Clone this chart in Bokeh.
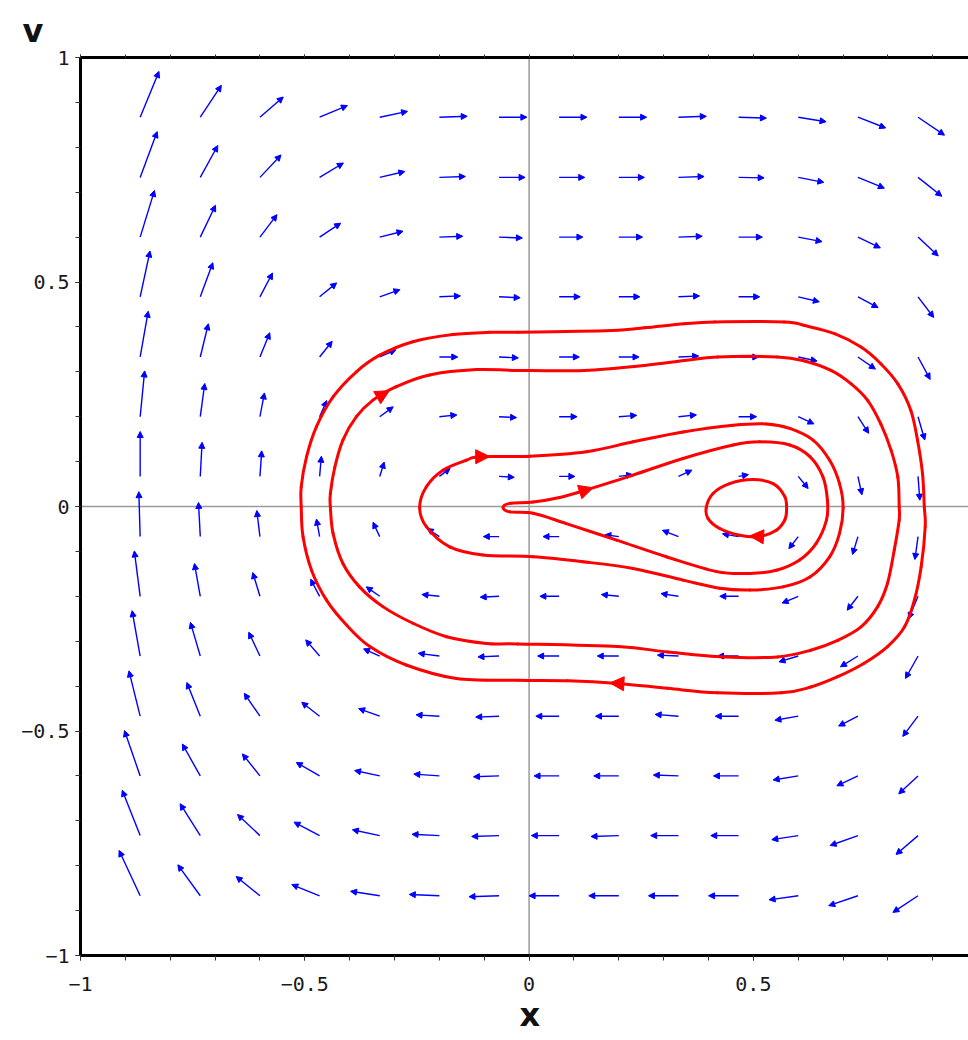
import numpy as np
from bokeh.plotting import figure
from bokeh.models import (ColumnDataSource, Arrow, NormalHead, Span, Title,
                          LinearAxis, SingleIntervalTicker, Range1d,
                          CustomJSTickFormatter)
from bokeh.embed import file_html
from bokeh.resources import INLINE

# ---- vector field: arrow tails on a 14 x 14 grid -------------------------
x_grid = [-0.867, -0.733, -0.600, -0.467, -0.333, -0.200, -0.067,
          0.067, 0.200, 0.333, 0.467, 0.600, 0.733, 0.867]
v_grid = [0.867, 0.733, 0.600, 0.467, 0.333, 0.200, 0.067,
          -0.067, -0.200, -0.333, -0.467, -0.600, -0.733, -0.867]

# arrow components (x direction), one row per entry of v_grid
field_u = [
    [0.042, 0.047, 0.052, 0.062, 0.062, 0.062, 0.062, 0.062, 0.062, 0.062, 0.062, 0.062, 0.062, 0.059],
    [0.038, 0.039, 0.047, 0.053, 0.056, 0.058, 0.058, 0.057, 0.057, 0.057, 0.057, 0.057, 0.059, 0.053],
    [0.032, 0.034, 0.038, 0.047, 0.052, 0.052, 0.052, 0.053, 0.053, 0.053, 0.053, 0.053, 0.050, 0.045],
    [0.022, 0.028, 0.028, 0.038, 0.045, 0.047, 0.047, 0.047, 0.047, 0.047, 0.047, 0.047, 0.045, 0.035],
    [0.018, 0.018, 0.022, 0.028, 0.036, 0.041, 0.043, 0.045, 0.045, 0.045, 0.045, 0.042, 0.039, 0.027],
    [0.010, 0.010, 0.010, 0.016, 0.030, 0.039, 0.039, 0.040, 0.040, 0.040, 0.040, 0.035, 0.024, 0.015],
    [0.000, 0.004, 0.004, 0.004, 0.010, 0.024, 0.034, 0.035, 0.031, 0.030, 0.022, 0.022, 0.009, 0.004],
    [-0.003, -0.004, -0.007, -0.007, -0.015, -0.027, -0.035, -0.036, -0.031, -0.036, -0.036, -0.021, -0.012, -0.007],
    [-0.013, -0.013, -0.016, -0.020, -0.030, -0.039, -0.042, -0.043, -0.039, -0.039, -0.042, -0.036, -0.024, -0.021],
    [-0.018, -0.022, -0.025, -0.031, -0.036, -0.047, -0.047, -0.048, -0.048, -0.047, -0.047, -0.043, -0.039, -0.028],
    [-0.025, -0.030, -0.035, -0.040, -0.047, -0.052, -0.052, -0.052, -0.052, -0.052, -0.052, -0.052, -0.043, -0.034],
    [-0.035, -0.040, -0.039, -0.052, -0.056, -0.057, -0.057, -0.056, -0.056, -0.056, -0.056, -0.056, -0.047, -0.043],
    [-0.040, -0.045, -0.050, -0.057, -0.061, -0.061, -0.061, -0.062, -0.062, -0.062, -0.062, -0.059, -0.062, -0.049],
    [-0.047, -0.050, -0.053, -0.062, -0.065, -0.067, -0.067, -0.067, -0.067, -0.067, -0.067, -0.065, -0.065, -0.056],
]
# arrow components (v direction)
field_w = [
    [0.102, 0.071, 0.045, 0.026, 0.013, 0.002, 0.000, 0.000, 0.000, 0.002, -0.002, -0.010, -0.024, -0.040],
    [0.102, 0.071, 0.050, 0.032, 0.013, 0.002, 0.000, 0.000, 0.000, 0.002, -0.001, -0.011, -0.024, -0.042],
    [0.104, 0.071, 0.050, 0.031, 0.013, 0.002, -0.002, 0.000, 0.000, 0.002, 0.000, -0.010, -0.024, -0.042],
    [0.102, 0.076, 0.053, 0.031, 0.016, 0.002, -0.002, 0.000, 0.000, 0.002, 0.000, -0.011, -0.024, -0.046],
    [0.102, 0.074, 0.054, 0.035, 0.016, 0.000, -0.002, 0.000, 0.000, 0.002, 0.000, -0.009, -0.027, -0.050],
    [0.102, 0.074, 0.053, 0.036, 0.022, 0.004, -0.002, 0.000, 0.003, 0.004, 0.000, -0.016, -0.037, -0.052],
    [0.100, 0.076, 0.057, 0.045, 0.032, 0.018, -0.002, 0.000, 0.004, 0.014, 0.004, -0.027, -0.041, -0.053],
    [0.100, 0.076, 0.058, 0.039, 0.032, 0.018, 0.000, 0.000, 0.004, 0.014, 0.006, -0.027, -0.040, -0.051],
    [0.101, 0.073, 0.053, 0.038, 0.021, 0.004, -0.002, 0.000, 0.004, 0.006, 0.000, -0.015, -0.031, -0.050],
    [0.101, 0.075, 0.053, 0.036, 0.016, 0.006, -0.002, 0.000, 0.000, 0.002, 0.000, -0.013, -0.024, -0.050],
    [0.101, 0.075, 0.051, 0.031, 0.017, 0.003, -0.002, 0.000, 0.000, 0.004, 0.000, -0.009, -0.022, -0.045],
    [0.101, 0.071, 0.049, 0.030, 0.012, 0.004, -0.002, 0.000, 0.000, 0.002, 0.000, -0.009, -0.022, -0.040],
    [0.101, 0.071, 0.047, 0.030, 0.013, 0.003, -0.002, 0.000, -0.002, 0.000, 0.000, -0.009, -0.022, -0.042],
    [0.101, 0.069, 0.043, 0.025, 0.010, 0.003, -0.002, 0.000, 0.000, 0.000, 0.000, -0.009, -0.022, -0.037],
]

# ---- phase trajectories (x, v), listed in the direction of motion --------
orbit_a_x = [-0.259, -0.170, -0.088, -0.025, 0.183, 0.257, 0.346, 0.413, 0.569, 0.614,
             0.681, 0.740, 0.784, 0.822, 0.851, 0.866, 0.877, 0.881, 0.883, 0.874,
             0.859, 0.837, 0.799, 0.747, 0.688, 0.628, 0.562, 0.420, 0.309, 0.198,
             0.086, -0.025, -0.162, -0.274, -0.355, -0.407, -0.452, -0.485, -0.504, -0.508,
             -0.508, -0.496, -0.474, -0.437, -0.385, -0.333]
orbit_a_v = [0.367, 0.383, 0.388, 0.388, 0.392, 0.398, 0.407, 0.411, 0.411, 0.403,
             0.385, 0.355, 0.318, 0.273, 0.214, 0.147, 0.073, -0.001, -0.045, -0.134,
             -0.208, -0.268, -0.312, -0.349, -0.379, -0.402, -0.415, -0.415, -0.405, -0.394,
             -0.388, -0.387, -0.383, -0.353, -0.312, -0.264, -0.208, -0.142, -0.067, -0.001,
             0.044, 0.111, 0.178, 0.244, 0.300, 0.337]

orbit_b_x = [-0.296, -0.222, -0.117, -0.025, 0.123, 0.257, 0.346, 0.420, 0.554, 0.614,
             0.673, 0.718, 0.755, 0.784, 0.807, 0.822, 0.825, 0.825, 0.814, 0.799,
             0.777, 0.740, 0.688, 0.628, 0.554, 0.435, 0.309, 0.198, -0.025, -0.095,
             -0.184, -0.259, -0.326, -0.378, -0.415, -0.437, -0.443, -0.443, -0.433, -0.415,
             -0.385, -0.348]
orbit_b_v = [0.267, 0.293, 0.305, 0.303, 0.303, 0.314, 0.325, 0.333, 0.333, 0.324,
             0.303, 0.273, 0.236, 0.184, 0.125, 0.065, -0.001, -0.030, -0.097, -0.171,
             -0.223, -0.268, -0.298, -0.320, -0.335, -0.335, -0.324, -0.312, -0.306, -0.305,
             -0.290, -0.260, -0.223, -0.179, -0.127, -0.060, -0.001, 0.029, 0.088, 0.148,
             0.200, 0.237]

orbit_c_x = [-0.140, -0.110, 0.001, 0.128, 0.232, 0.343, 0.455, 0.529, 0.581, 0.633,
             0.670, 0.692, 0.700, 0.692, 0.670, 0.626, 0.566, 0.492, 0.425, 0.343,
             0.232, 0.120, 0.009, -0.103, -0.177, -0.229, -0.244, -0.229, -0.192]
orbit_c_v = [0.103, 0.111, 0.112, 0.122, 0.144, 0.166, 0.181, 0.184, 0.174, 0.148,
             0.103, 0.051, -0.002, -0.060, -0.112, -0.157, -0.179, -0.186, -0.182, -0.164,
             -0.138, -0.123, -0.112, -0.108, -0.090, -0.045, -0.002, 0.044, 0.081]

loop_d_x = [-0.058, -0.043, 0.009, 0.068, 0.128, 0.232, 0.343, 0.455, 0.514, 0.581,
            0.626, 0.655, 0.665, 0.663, 0.640, 0.603, 0.551, 0.492, 0.418, 0.306,
            0.195, 0.083, 0.009, -0.043]
loop_d_v = [-0.002, 0.007, 0.010, 0.020, 0.037, 0.070, 0.107, 0.137, 0.144, 0.137,
            0.111, 0.066, 0.014, -0.030, -0.082, -0.119, -0.142, -0.149, -0.145, -0.112,
            -0.075, -0.038, -0.015, -0.012]

orbit_e_x = [0.395, 0.410, 0.447, 0.499, 0.544, 0.570, 0.574, 0.570, 0.551, 0.514,
             0.469, 0.425, 0.399]
orbit_e_v = [-0.002, 0.029, 0.051, 0.060, 0.051, 0.022, -0.008, -0.030, -0.053, -0.067,
             -0.064, -0.049, -0.027]

# (curve, segment index, fraction along the segment) for direction markers
curves = [
    (orbit_a_x, orbit_a_v, 29, 0.16),
    (orbit_b_x, orbit_b_v, 41, 0.70),
    (orbit_c_x, orbit_c_v, 1, 0.20),
    (loop_d_x, loop_d_v, 4, 0.14),
    (orbit_e_x, orbit_e_v, 9, 0.50),
]

X_LO, X_HI = -1.0, 0.9795
BLUE = "#0000ff"
RED = "#ff0000"

p = figure(width=968, height=1040,
           x_range=Range1d(X_LO, X_HI), y_range=Range1d(-1, 1),
           output_backend="svg", toolbar_location=None,
           min_border_left=80, min_border_right=0,
           min_border_top=57, min_border_bottom=85,
           x_axis_type=None, y_axis_type=None)
p.outline_line_color = None
p.grid.visible = False
p.background_fill_color = "white"
p.border_fill_color = "white"

# axis name "v" in the top-left corner
p.title.text = "v"
p.title.align = "left"
p.title.offset = -58
p.title.standoff = 9
p.title.text_font = "DejaVu Sans"
p.title.text_font_style = "bold"
p.title.text_font_size = "32px"
p.title.text_color = "#111111"

minus = "\u2212"
labels = {-1: minus + "1", -0.5: minus + "0.5", 0: "0", 0.5: "0.5", 1: "1"}


def frame_axis(axis, tick_out, show_labels=True):
    axis.ticker = SingleIntervalTicker(interval=0.5, num_minor_ticks=5)
    axis.axis_line_color = "black"
    axis.axis_line_width = 3
    axis.major_tick_in = 0
    axis.minor_tick_in = 0
    axis.major_tick_out = tick_out
    axis.minor_tick_out = tick_out
    axis.major_tick_line_color = "#333333"
    axis.minor_tick_line_color = "#333333"
    axis.major_tick_line_width = 1
    axis.minor_tick_line_width = 1
    if show_labels:
        axis.major_label_overrides = labels
        axis.major_label_text_font = "DejaVu Sans Mono"
        axis.major_label_text_font_size = "20px"
        axis.major_label_text_color = "#1a1a1a"
    else:
        axis.formatter = CustomJSTickFormatter(code="return ''")
    return axis


bottom = frame_axis(LinearAxis(), 5)
bottom.major_label_standoff = 16
left = frame_axis(LinearAxis(), 5)
left.major_label_standoff = 6
top = frame_axis(LinearAxis(), 3, show_labels=False)
top.major_label_standoff = 0
p.add_layout(bottom, "below")
p.add_layout(left, "left")
p.add_layout(top, "above")

# axis name "x" under the bottom axis, centred on x = 0
x_name = Title(text="x", align="left", offset=439, standoff=1,
               text_font="DejaVu Sans", text_font_style="bold",
               text_font_size="32px", text_color="#111111")
p.add_layout(x_name, "below")

# coordinate axes through the origin
p.add_layout(Span(location=0, dimension="height", line_color="#9a9a9a",
                  line_width=1.5, level="underlay"))
p.add_layout(Span(location=0, dimension="width", line_color="#9a9a9a",
                  line_width=1.5, level="underlay"))

# direction field
xs0, ys0, xs1, ys1 = [], [], [], []
for i, v0 in enumerate(v_grid):
    for j, x0 in enumerate(x_grid):
        xs0.append(x0)
        ys0.append(v0)
        xs1.append(x0 + field_u[i][j])
        ys1.append(v0 + field_w[i][j])
field_src = ColumnDataSource(dict(x0=xs0, y0=ys0, x1=xs1, y1=ys1))
p.add_layout(Arrow(source=field_src, x_start="x0", y_start="y0",
                   x_end="x1", y_end="y1",
                   line_color=BLUE, line_width=1.4, level="underlay",
                   end=NormalHead(size=6, fill_color=BLUE, line_color=BLUE,
                                  line_width=1)))


def smooth_closed(cx, cv):
    """Cubic Bezier pieces (Catmull-Rom tangents) through a closed point list."""
    n = len(cx)
    seg = dict(x0=[], y0=[], x1=[], y1=[], cx0=[], cy0=[], cx1=[], cy1=[])
    for i in range(n):
        p0 = (cx[i - 1], cv[i - 1])
        p1 = (cx[i], cv[i])
        p2 = (cx[(i + 1) % n], cv[(i + 1) % n])
        p3 = (cx[(i + 2) % n], cv[(i + 2) % n])
        seg["x0"].append(p1[0]); seg["y0"].append(p1[1])
        seg["x1"].append(p2[0]); seg["y1"].append(p2[1])
        seg["cx0"].append(p1[0] + (p2[0] - p0[0]) / 6.0)
        seg["cy0"].append(p1[1] + (p2[1] - p0[1]) / 6.0)
        seg["cx1"].append(p2[0] - (p3[0] - p1[0]) / 6.0)
        seg["cy1"].append(p2[1] - (p3[1] - p1[1]) / 6.0)
    return ColumnDataSource(seg)


# trajectories
for cx, cv, k, t in curves:
    p.bezier(x0="x0", y0="y0", x1="x1", y1="y1", cx0="cx0", cy0="cy0",
             cx1="cx1", cy1="cy1", source=smooth_closed(cx, cv),
             line_color=RED, line_width=3, line_cap="round")
    n = len(cx)
    ax0, av0 = cx[k], cv[k]
    ax1, av1 = cx[(k + 1) % n], cv[(k + 1) % n]
    tip_x = ax0 + t * (ax1 - ax0)
    tip_v = av0 + t * (av1 - av0)
    start_x = ax0 - 0.3 * (ax1 - ax0)
    start_v = av0 - 0.3 * (av1 - av0)
    p.add_layout(Arrow(x_start=start_x, y_start=start_v, x_end=tip_x, y_end=tip_v,
                       line_alpha=0, line_width=0,
                       end=NormalHead(size=14, fill_color=RED, line_color=RED,
                                      line_width=1)))

open("out.html", "w").write(file_html(p, INLINE))
